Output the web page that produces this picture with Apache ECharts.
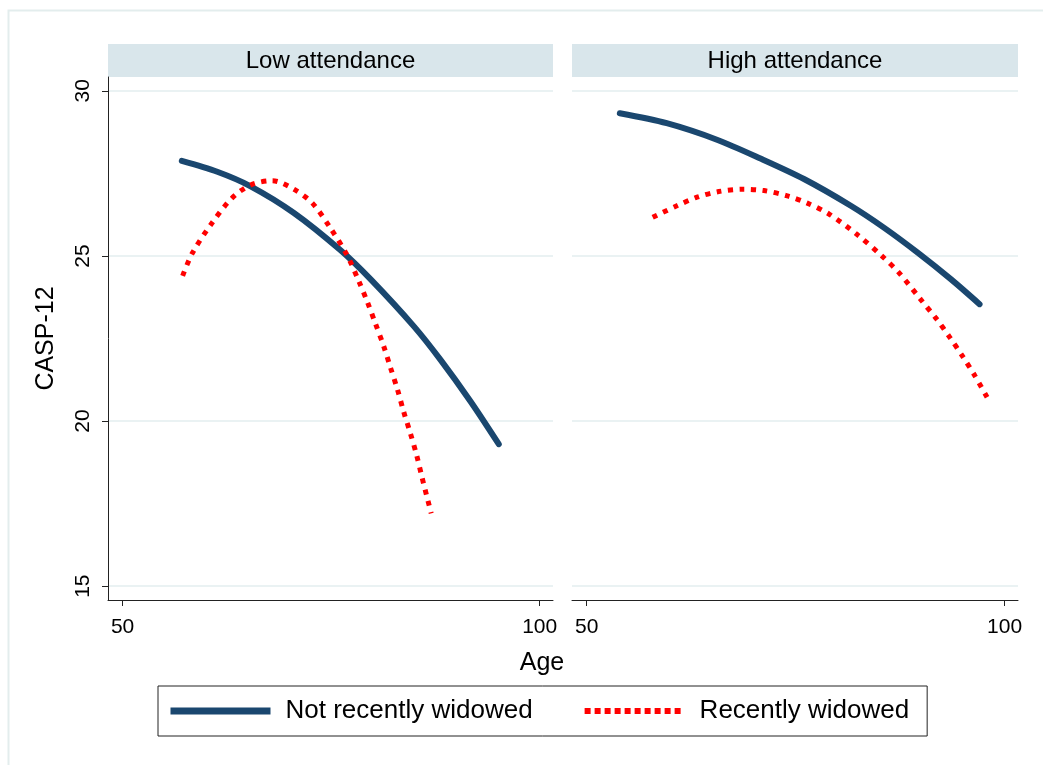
<!DOCTYPE html>
<html>
<head>
<meta charset="utf-8">
<script src="https://cdn.jsdelivr.net/npm/echarts@6/dist/echarts.min.js"></script>
<style>
html,body{margin:0;padding:0;background:#fff;}
#chart{width:1043px;height:765px;}
</style>
</head>
<body>
<div id="chart"></div>
<script>
// Panels
const panels = ['Low attendance', 'High attendance'];
const seriesNames = ['Not recently widowed', 'Recently widowed'];

// Tick values
const yTicks = [15, 20, 25, 30];
const xTicks = [50, 100];

// Low attendance - Not recently widowed
const lowNotAge = [57.1, 61.35, 65.35, 70.5, 76.1, 79.75, 84.95, 88.1, 91.7, 95.1];
const lowNotVal = [27.88, 27.55, 27.11, 26.31, 25.18, 24.29, 22.86, 21.86, 20.6, 19.3];

// Low attendance - Recently widowed
const lowWidAge = [57.2, 58.35, 60.55, 63.1, 65.35, 67.95, 70.55, 72.75, 74.9, 76.9, 78.35, 79.4, 80.3, 81.3, 82.1, 82.95, 83.7, 84.5, 85.25, 85.9, 87.0];
const lowWidVal = [24.4, 25.08, 25.94, 26.75, 27.15, 27.28, 27.02, 26.6, 25.85, 25.03, 24.22, 23.57, 22.96, 22.27, 21.63, 20.96, 20.28, 19.63, 18.97, 18.29, 17.2];

// High attendance - Not recently widowed
const highNotAge = [53.97, 59.58, 65.59, 70.8, 76.0, 81.6, 85.6, 89.6, 93.6, 97.0];
const highNotVal = [29.32, 29.02, 28.52, 27.95, 27.33, 26.52, 25.85, 25.1, 24.29, 23.54];

// High attendance - Recently widowed
const highWidAge = [57.9, 60.8, 63.2, 65.8, 68.6, 71.2, 74.0, 76.4, 79.0, 82.4, 85.4, 87.4, 90.0, 91.8, 93.4, 95.0, 96.4, 97.9];
const highWidVal = [26.17, 26.52, 26.78, 26.95, 27.02, 26.98, 26.82, 26.6, 26.27, 25.64, 24.98, 24.48, 23.67, 23.11, 22.55, 21.95, 21.39, 20.72];

const BLUE = '#1a476f';
const RED = '#ff0000';
const FONT = 'Liberation Sans, Arial, Helvetica, sans-serif';

function pairs(xs, ys) { return xs.map((x, i) => [x, ys[i]]); }

const chart = echarts.init(document.getElementById('chart'), null, {renderer: 'canvas'});

const gridLeft = [108, 572];
const gridWidth = [445, 446];

const xAxes = gridLeft.map((l, i) => ({
  type: 'value', gridIndex: i, min: 48.25, max: 101.6,
  axisLine: {show: true, onZero: false, lineStyle: {color: '#222', width: 1}},
  axisTick: {show: true, length: 6, lineStyle: {color: '#222'}, customValues: xTicks},
  axisLabel: {show: true, customValues: xTicks, fontSize: 21, color: '#000', fontFamily: FONT, margin: 17},
  splitLine: {show: false}
}));

const yAxes = gridLeft.map((l, i) => ({
  type: 'value', gridIndex: i, min: 14.58, max: 30.42,
  name: i === 0 ? 'CASP-12' : '',
  nameLocation: 'middle', nameGap: 49,
  nameTextStyle: {fontSize: 25, color: '#000', fontFamily: FONT},
  axisLine: {show: i === 0, onZero: false, lineStyle: {color: '#222', width: 1}},
  axisTick: {show: i === 0, length: 6, lineStyle: {color: '#222'}, customValues: yTicks},
  axisLabel: {show: i === 0, customValues: yTicks, rotate: 90, fontSize: 21, color: '#000', fontFamily: FONT, margin: 14},
  splitLine: {show: true, lineStyle: {color: '#eaf2f3', width: 2}}
}));

const lineCommon = {type: 'line', smooth: 0.3, symbol: 'none', showSymbol: false, silent: true, z: 3};

const option = {
  animation: false,
  backgroundColor: '#fff',
  grid: gridLeft.map((l, i) => ({left: l, top: 77, width: gridWidth[i], height: 523, containLabel: false})),
  xAxis: xAxes,
  yAxis: yAxes,
  legend: {
    left: 158, top: 686,
    orient: 'horizontal',
    itemWidth: 100, itemHeight: 26, itemGap: 49,
    padding: [12, 18, 12, 9],
    borderColor: '#222', borderWidth: 1,
    textStyle: {fontSize: 26, color: '#000', fontFamily: FONT, padding: [0, 0, 0, 10], lineHeight: 26},
    itemStyle: {opacity: 0},
    data: [
      {name: seriesNames[0], lineStyle: {color: BLUE, width: 7, type: 'solid', cap: 'butt'}},
      {name: seriesNames[1], lineStyle: {color: RED, width: 6, type: [6, 4], cap: 'butt'}}
    ]
  },
  series: [
    Object.assign({}, lineCommon, {name: seriesNames[0], xAxisIndex: 0, yAxisIndex: 0, data: pairs(lowNotAge, lowNotVal), lineStyle: {color: BLUE, width: 6, cap: 'round'}, itemStyle: {color: BLUE}}),
    Object.assign({}, lineCommon, {name: seriesNames[1], xAxisIndex: 0, yAxisIndex: 0, data: pairs(lowWidAge, lowWidVal), lineStyle: {color: RED, width: 5, type: [5, 6.5], cap: 'butt'}, itemStyle: {color: RED}}),
    Object.assign({}, lineCommon, {name: seriesNames[0], xAxisIndex: 1, yAxisIndex: 1, data: pairs(highNotAge, highNotVal), lineStyle: {color: BLUE, width: 6, cap: 'round'}, itemStyle: {color: BLUE}}),
    Object.assign({}, lineCommon, {name: seriesNames[1], xAxisIndex: 1, yAxisIndex: 1, data: pairs(highWidAge, highWidVal), lineStyle: {color: RED, width: 5, type: [5, 6.5], cap: 'butt'}, itemStyle: {color: RED}})
  ],
  graphic: [
    {type: 'rect', left: 6, top: 8, shape: {x: 0, y: 0, width: 1100, height: 800}, style: {fill: null, stroke: '#e3eded', lineWidth: 2}, silent: true, z: -1},
    {type: 'rect', shape: {x: 108, y: 44, width: 445, height: 33}, style: {fill: '#d9e6eb'}, silent: true},
    {type: 'rect', shape: {x: 572, y: 44, width: 446, height: 33}, style: {fill: '#d9e6eb'}, silent: true},
    {type: 'text', x: 330.5, y: 61, style: {text: panels[0], font: '24px ' + FONT, fill: '#000', textAlign: 'center', textVerticalAlign: 'middle'}, silent: true},
    {type: 'text', x: 795, y: 61, style: {text: panels[1], font: '24px ' + FONT, fill: '#000', textAlign: 'center', textVerticalAlign: 'middle'}, silent: true},
    {type: 'text', x: 542, y: 663, style: {text: 'Age', font: '25px ' + FONT, fill: '#000', textAlign: 'center', textVerticalAlign: 'middle'}, silent: true}
  ]
};
chart.setOption(option);
</script>
</body>
</html>
